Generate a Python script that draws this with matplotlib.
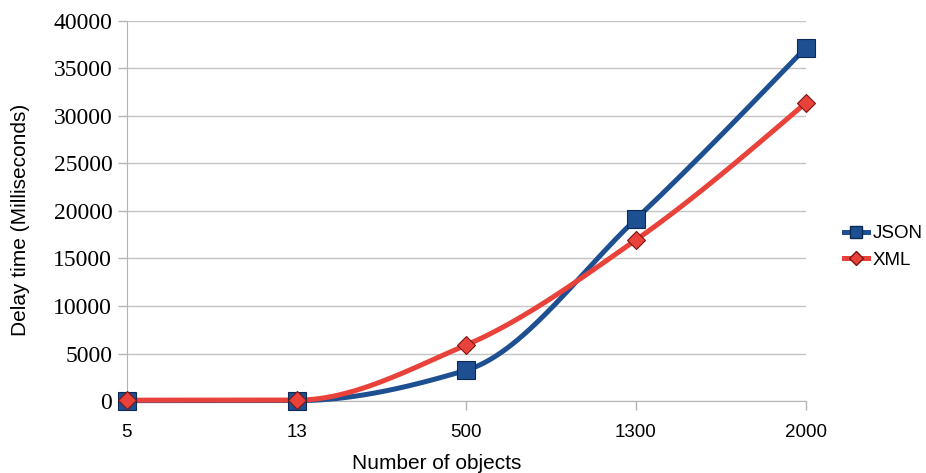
import numpy as np
from matplotlib import pyplot as plt

# datos
categorias = ["5", "13", "500", "1300", "2000"]
json_ms = [50, 50, 3250, 19150, 37150]
xml_ms = [100, 100, 5900, 16950, 31350]


def curva(y, n=60):
    # interpolacion monotona (pchip) entre posiciones de categoria, solo para dibujar la curva
    y = np.asarray(y, dtype=float)
    d = np.diff(y)
    m = np.zeros(len(y))
    for i in range(1, len(y) - 1):
        if d[i - 1] * d[i] > 0:
            m[i] = 2 / (1 / d[i - 1] + 1 / d[i])
    m[0] = d[0]
    m[-1] = (3 * d[-1] - m[-2]) / 2
    xs, ys = [], []
    for i in range(len(y) - 1):
        t = np.linspace(0, 1, n)
        h00 = 2 * t**3 - 3 * t**2 + 1
        h10 = t**3 - 2 * t**2 + t
        h01 = -2 * t**3 + 3 * t**2
        h11 = t**3 - t**2
        xs.extend(i + t)
        ys.extend(h00 * y[i] + h10 * m[i] + h01 * y[i + 1] + h11 * m[i + 1])
    return np.array(xs), np.array(ys)


x = np.arange(len(categorias))
azul = "#1d4f91"
rojo = "#e8423b"

fig = plt.figure(figsize=(9.26, 4.73), dpi=100)
ax = fig.add_axes([0.137, 0.152, 0.733, 0.804])

xs, ys = curva(json_ms)
ax.plot(xs, ys, color=azul, lw=3.6, zorder=3, solid_capstyle="round")
xs, ys = curva(xml_ms)
ax.plot(xs, ys, color=rojo, lw=3.6, zorder=4, solid_capstyle="round")
ax.plot(x, json_ms, "s", color=azul, ms=12.5, mec="#0d2a55", mew=0.8, zorder=5)
ax.plot(x, xml_ms, "D", color=rojo, ms=9, mec="#7a1512", mew=0.8, zorder=6)

# leyenda
ax.plot([], [], color=azul, lw=3.6, marker="s", ms=9, mec="#0d2a55", label="JSON")
ax.plot([], [], color=rojo, lw=3.6, marker="D", ms=7, mec="#7a1512", label="XML")
leg = ax.legend(loc="center left", bbox_to_anchor=(1.045, 0.405), frameon=False,
                handlelength=1.3, handletextpad=0.25, labelspacing=0.5,
                borderaxespad=0, prop={"family": "Liberation Sans", "size": 13.5})

ax.set_xlim(0, len(categorias) - 1)
ax.set_ylim(0, 40000)
ax.set_yticks(np.arange(0, 40001, 5000))
ax.set_xticks(x)
ax.set_xticklabels(categorias, family="Liberation Sans", fontsize=13.5)
for t in ax.get_yticklabels():
    t.set_family("Liberation Serif")
    t.set_fontsize(17)
ax.grid(axis="y", color="#c4c4c4", lw=1)
ax.set_axisbelow(True)
for s in ["top", "right"]:
    ax.spines[s].set_visible(False)
for s in ["left", "bottom"]:
    ax.spines[s].set_color("#b4b4b4")
ax.tick_params(axis="both", color="#b4b4b4", length=6.5, width=1)
ax.tick_params(axis="x", pad=10)
ax.tick_params(axis="y", pad=4)
ax.set_xlabel("Number of objects", family="Liberation Sans", fontsize=15)
ax.set_ylabel("Delay time (Milliseconds)", family="Liberation Sans", fontsize=15)
ax.xaxis.set_label_coords((437 - 127) / 679, -0.163)
ax.yaxis.set_label_coords(-0.156, 0.476)
ax.xaxis.label.set_va("center")
ax.yaxis.label.set_va("center")
for l in ax.lines:
    l.set_clip_on(False)

fig.savefig("out.png", dpi=100)
